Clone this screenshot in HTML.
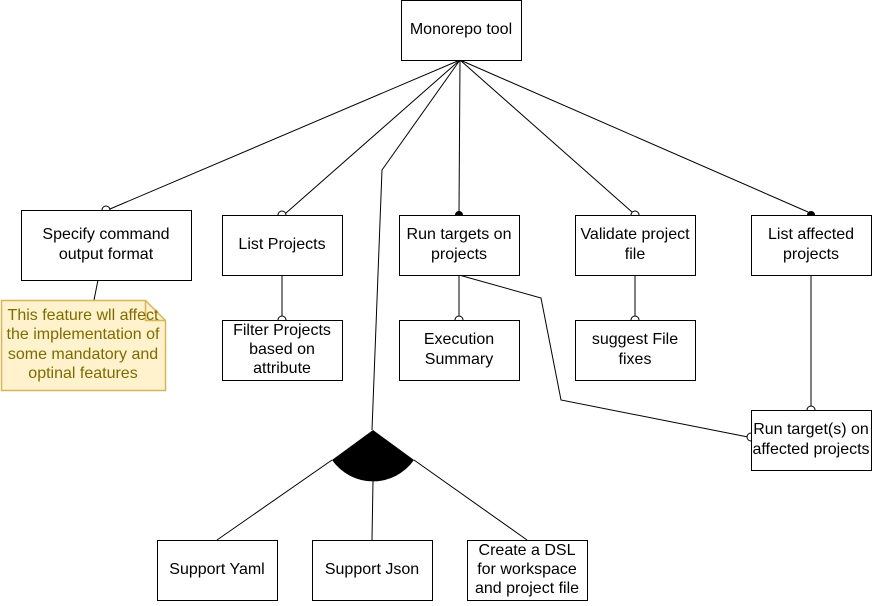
<!DOCTYPE html>
<html><head><meta charset="utf-8"><style>
body{margin:0;background:#fff}
svg text{font-family:"Liberation Sans",Arial,sans-serif;font-size:16px;fill:#000;text-anchor:middle}
</style></head><body>
<svg width="872" height="601" viewBox="0 0 872 601" xmlns="http://www.w3.org/2000/svg">
<g stroke="#000" fill="none" stroke-width="1">
<line x1="460" y1="60" x2="110" y2="209"/>
<line x1="460" y1="60" x2="286" y2="213"/>
<line x1="460" y1="60" x2="459" y2="212"/>
<line x1="460" y1="60" x2="632" y2="212"/>
<line x1="460" y1="60" x2="808" y2="212"/>
<polyline points="460,60 382,170 372,430"/>
<line x1="282" y1="275" x2="282" y2="317"/>
<line x1="459" y1="275" x2="459" y2="317"/>
<line x1="635" y1="275" x2="635" y2="317"/>
<line x1="811" y1="275" x2="811" y2="407"/>
<polyline points="459,275 541,298 561,400 748,437"/>
<line x1="98" y1="280" x2="94" y2="300"/>
<line x1="332" y1="460" x2="217" y2="540"/>
<line x1="373" y1="480" x2="372" y2="540"/>
<line x1="414" y1="460" x2="527" y2="540"/>
</g>
<g stroke="#000" fill="#fff">
<circle cx="106" cy="210" r="4"/>
<circle cx="282" cy="215" r="4"/>
<circle cx="635" cy="215" r="4"/>
<circle cx="282" cy="320" r="4"/>
<circle cx="459" cy="320" r="4"/>
<circle cx="635" cy="320" r="4"/>
<circle cx="811" cy="410" r="4"/>
<circle cx="751" cy="437" r="4"/>
</g>
<g fill="#000"><circle cx="459" cy="215" r="4"/><circle cx="811" cy="215" r="4"/></g>
<path d="M373 430 L332 460 A50 50 0 0 0 414 460 Z" fill="#000"/>
<g stroke="#000" fill="#fff">
<rect x="401.5" y="0.5" width="120" height="60"/>
<rect x="21.5" y="210.5" width="170" height="70"/>
<rect x="222.5" y="215.5" width="120" height="60"/>
<rect x="399.5" y="215.5" width="120" height="60"/>
<rect x="575.5" y="215.5" width="120" height="60"/>
<rect x="751.5" y="215.5" width="120" height="60"/>
<rect x="222.5" y="320.5" width="120" height="60"/>
<rect x="399.5" y="320.5" width="120" height="60"/>
<rect x="575.5" y="320.5" width="120" height="60"/>
<rect x="751.5" y="410.5" width="120" height="60"/>
<rect x="157.5" y="540.5" width="120" height="60"/>
<rect x="312.5" y="540.5" width="120" height="60"/>
<rect x="467.5" y="540.5" width="120" height="60"/>
</g>
<path d="M1.5 300.5 H145.5 L165.5 320.5 V390.5 H1.5 Z" fill="#fff2cc" stroke="#d6b656" stroke-width="1.5"/>
<path d="M145.5 300.5 V320.5 H165.5" fill="none" stroke="#d6b656" stroke-width="1.5"/>
<text x="461" y="34">Monorepo tool</text>
<text x="106" y="239">Specify command</text><text x="106" y="259">output format</text>
<text x="282" y="249">List Projects</text>
<text x="459" y="239">Run targets on</text><text x="459" y="259">projects</text>
<text x="635" y="239">Validate project</text><text x="635" y="259">file</text>
<text x="811" y="239">List affected</text><text x="811" y="259">projects</text>
<text x="282" y="335">Filter Projects</text><text x="282" y="354">based on</text><text x="282" y="373">attribute</text>
<text x="459" y="344">Execution</text><text x="459" y="364">Summary</text>
<text x="635" y="344">suggest File</text><text x="635" y="364">fixes</text>
<text x="811" y="434">Run target(s) on</text><text x="811" y="454">affected projects</text>
<text x="217" y="574">Support Yaml</text>
<text x="372" y="574">Support Json</text>
<text x="527" y="555">Create a DSL</text><text x="527" y="574">for workspace</text><text x="527" y="593">and project file</text>
<text x="83" y="320" style="fill:#7f6a00">This feature wll affect</text>
<text x="83" y="339" style="fill:#7f6a00">the implementation of</text>
<text x="83" y="359" style="fill:#7f6a00">some mandatory and</text>
<text x="83" y="378" style="fill:#7f6a00">optinal features</text>
</svg>
</body></html>
